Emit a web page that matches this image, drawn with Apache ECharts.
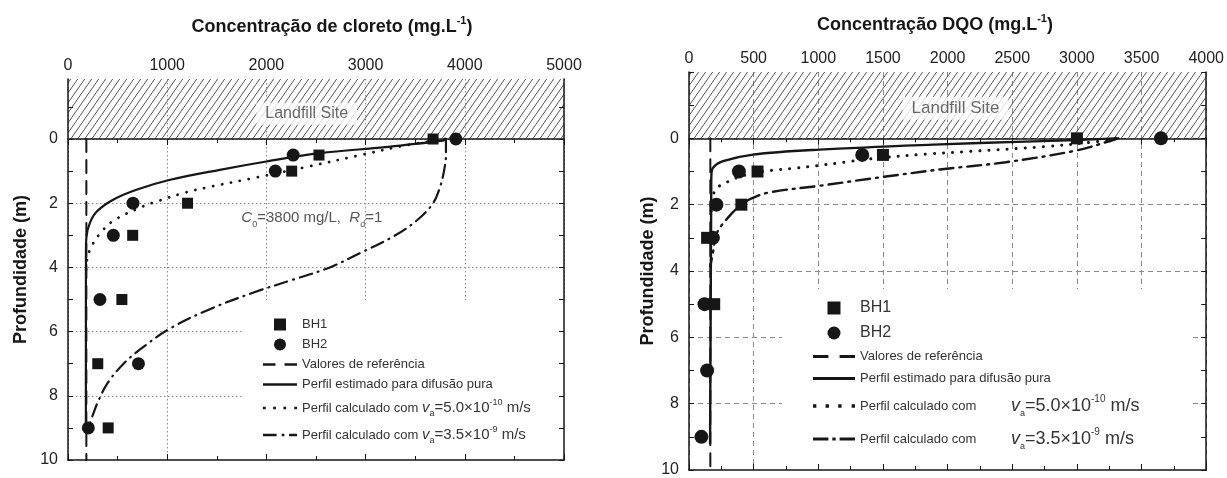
<!DOCTYPE html>
<html>
<head>
<meta charset="utf-8">
<script src="https://cdn.jsdelivr.net/npm/echarts@6.0.0/dist/echarts.min.js"></script>
<style>
  html, body { margin: 0; padding: 0; background: #fff; }
  #chart { width: 1227px; height: 478px; }
</style>
</head>
<body>
<div id="chart"></div>
<script>
// ---- cloreto (left panel) ----
const clDepthBH = [0, 0.5, 1, 2, 3, 5, 7, 9];
const clBH1 = [3680, 2530, 2255, 1205, 652, 543, 300, 405];
const clBH2 = [3910, 2270, 2090, 655, 457, 322, 710, 205];
const clRefDepth = [0, 10];
const clRefConc = [185, 185];
const clPureDepth = [0, 0.05, 0.25, 0.44, 0.7, 0.96, 1.27, 1.58, 1.89, 2.26, 2.62, 3.04, 3.5, 9];
const clPureConc = [3800, 3780, 3200, 2540, 2000, 1530, 1030, 690, 455, 290, 220, 186, 181, 180];
const clVa5Depth = [0, 0.2, 0.5, 0.86, 1.22, 1.48, 1.67, 1.95, 2.12, 2.52, 2.88, 3.35, 3.76, 4.1];
const clVa5Conc = [3800, 3400, 2950, 2420, 1865, 1445, 1180, 890, 740, 470, 340, 236, 192, 183];
const clVa35Depth = [0, 0.5, 1.0, 1.5, 2.0, 2.5, 3.0, 3.5, 4.0, 4.4, 4.75, 5.3, 5.9, 6.5, 7.0, 7.6, 8.2, 8.6, 8.9];
const clVa35Conc = [3810, 3810, 3790, 3750, 3680, 3530, 3300, 2980, 2640, 2250, 1900, 1430, 1030, 750, 560, 400, 300, 250, 215];

// ---- DQO (right panel) ----
const dqDepthBH1 = [0, 0.5, 1, 2, 3, 5];
const dqBH1 = [3000, 1500, 530, 405, 140, 195];
const dqDepthBH2 = [0, 0.5, 1, 2, 3, 5, 7, 9];
const dqBH2 = [3650, 1340, 386, 212, 185, 120, 140, 96];
const dqRefDepth = [0, 10];
const dqRefConc = [165, 165];
const dqPureDepth = [0, 0.05, 0.1, 0.19, 0.34, 0.49, 0.69, 0.89, 1.13, 1.5, 9.2];
const dqPureConc = [3300, 3000, 2600, 1890, 1010, 495, 263, 186, 173, 172, 163];
const dqVa5Depth = [0, 0.1, 0.25, 0.4, 0.47, 0.6, 0.72, 0.82, 0.9, 0.96, 1.05, 1.2, 1.35, 1.5, 1.8, 2.2];
const dqVa5Conc = [3300, 3150, 2750, 2150, 1850, 1450, 1200, 1000, 820, 650, 500, 360, 280, 215, 180, 172];
const dqVa35Depth = [0, 0.05, 0.37, 0.72, 0.94, 1.18, 1.43, 1.63, 1.82, 2.0, 2.33, 2.88, 3.43, 3.85];
const dqVa35Conc = [3320, 3280, 2990, 2450, 1940, 1470, 1010, 620, 480, 405, 315, 212, 186, 165];

// axis ranges and ticks
const clXTicks = [0, 1000, 2000, 3000, 4000, 5000];
const dqXTicks = [0, 500, 1000, 1500, 2000, 2500, 3000, 3500, 4000];
const depthLabels = [0, 2, 4, 6, 8, 10];
const depthGrid = [0, 2, 4, 6, 8];
const clDepthTicks = [-1, 0, 1, 2, 3, 4, 5, 6, 7, 8, 9, 10];
const dqDepthTicks = [-2, -1, 0, 1, 2, 3, 4, 5, 6, 7, 8, 9, 10];
const clDepthMin = -1.87, dqDepthMin = -2;

// annotation anchors (data coords)
const clSiteLabel = [2406, -0.79];
const dqSiteLabel = [2061, -0.91];
const clC0Label = [2458, 2.46];

function pairs(xs, ys) { return xs.map((x, i) => [x, ys[i]]); }

function hatchPattern() {
  const w = 7, h = 10;
  const c = document.createElement('canvas');
  c.width = w; c.height = h;
  const g = c.getContext('2d');
  g.strokeStyle = '#555';
  g.lineWidth = 1;
  for (let k = -1; k <= 1; k++) {
    g.beginPath();
    g.moveTo(k * w, h);
    g.lineTo((k + 1) * w, 0);
    g.stroke();
  }
  return c;
}
const hatch = { image: hatchPattern(), repeat: 'repeat' };

const INK = '#161616';
const FONT = 'Liberation Sans, Arial, sans-serif';

const chart = echarts.init(document.getElementById('chart'), null, { renderer: 'canvas' });

// frame axes sit above the legend boxes, grid lines sit below them
function topAxis(grid, max, interval, labels) {
  return {
    type: 'value', gridIndex: grid, position: 'top', min: 0, max: max, interval: interval, z: 5,
    axisLine: { show: true, lineStyle: { color: INK, width: 1.5 } },
    axisTick: { show: true, inside: true, length: 6, lineStyle: { color: INK } },
    minorTick: { show: true, splitNumber: 2, length: 4, lineStyle: { color: INK } },
    axisLabel: { show: true, color: '#222', fontSize: 16, fontFamily: FONT, margin: 5,
      customValues: labels, formatter: function (v) { return String(v); } },
    splitLine: { show: false }
  };
}
function bottomAxis(grid, max, interval) {
  return {
    type: 'value', gridIndex: grid, position: 'bottom', min: 0, max: max, interval: interval, z: 5,
    axisLine: { show: true, onZero: false, lineStyle: { color: INK, width: 1.5 } },
    axisTick: { show: true, inside: true, length: 6, lineStyle: { color: INK } },
    minorTick: { show: true, splitNumber: 2, length: 4, lineStyle: { color: INK } },
    axisLabel: { show: false }, splitLine: { show: false }
  };
}
function xGridAxis(grid, max, interval, gridType) {
  return {
    type: 'value', gridIndex: grid, min: 0, max: max, interval: interval, z: 0,
    axisLine: { show: false }, axisTick: { show: false }, axisLabel: { show: false },
    splitLine: { show: true, lineStyle: { color: '#8a8a8a', width: 1, type: gridType } }
  };
}
function depthAxes(grid, min, ticks, name, nameGap, gridType) {
  return [
    {
      type: 'value', gridIndex: grid, position: 'left', inverse: true, min: min, max: 10, z: 5,
      name: name, nameLocation: 'middle', nameGap: nameGap, nameRotate: 90,
      nameTextStyle: { fontSize: 18, fontWeight: 'bold', color: INK, fontFamily: FONT },
      axisLine: { show: true, onZero: false, lineStyle: { color: INK, width: 1.5 } },
      axisTick: { show: true, inside: true, length: 5, customValues: ticks, lineStyle: { color: INK } },
      axisLabel: { show: true, customValues: depthLabels, color: '#222', fontSize: 16, fontFamily: FONT, margin: 10 },
      splitLine: { show: false }
    },
    {
      type: 'value', gridIndex: grid, position: 'right', inverse: true, min: min, max: 10, z: 5,
      axisLine: { show: true, onZero: false, lineStyle: { color: INK, width: 1.5 } },
      axisTick: { show: true, inside: true, length: 5, customValues: ticks, lineStyle: { color: INK } },
      axisLabel: { show: false }, splitLine: { show: false }
    },
    {
      type: 'value', gridIndex: grid, position: 'left', inverse: true, min: min, max: 10, z: 0,
      axisLine: { show: false }, axisLabel: { show: false },
      axisTick: { show: false, customValues: depthGrid },
      splitLine: { show: true, lineStyle: { color: '#8a8a8a', width: 1, type: gridType } }
    }
  ];
}

const dotted = [0.1, 9];
const clGridType = [1.5, 2.5];
const dqGridType = [5, 4];

// legend icons (shapes only)
const icSquare = 'path://M0,0h10v10h-10z';
const icDash = 'path://M0,0h11v2.2h-11zM19,0h11v2.2h-11z';
const icSolid = 'path://M0,0h30v2.2h-30z';
const icDot = 'path://M0,0h2.4v2.4h-2.4zM9,0h2.4v2.4h-2.4zM18,0h2.4v2.4h-2.4zM27.6,0h2.4v2.4h-2.4z';
const icDashDotL = 'path://M0,0h12v2.2h-12zM16.5,0h2.4v2.2h-2.4zM23,0h7v2.2h-7z';
const icDashDotR = 'path://M0,0h11v2.2h-11zM13.8,0h2.4v2.2h-2.4zM19,0h11v2.2h-11z';

function legendData(dashDot) {
  return [
    { name: 'BH1', icon: icSquare },
    { name: 'BH2', icon: 'circle' },
    { name: 'Valores de referência', icon: icDash },
    { name: 'Perfil estimado para difusão pura', icon: icSolid },
    { name: 'va5', icon: icDot },
    { name: 'va35', icon: dashDot }
  ];
}

const richL = {
  i: { fontStyle: 'italic', fontSize: 15, color: '#333', fontFamily: FONT },
  b: { fontSize: 15, color: '#333', fontFamily: FONT },
  sub: { fontSize: 9, color: '#333', verticalAlign: 'bottom', lineHeight: 20, fontFamily: FONT },
  sup: { fontSize: 9, color: '#333', verticalAlign: 'top', lineHeight: 20, fontFamily: FONT }
};
const richR = {
  i: { fontStyle: 'italic', fontSize: 18, color: '#333', fontFamily: FONT, padding: [0, 0, 0, 31] },
  b: { fontSize: 18, color: '#333', fontFamily: FONT },
  sub: { fontSize: 9, color: '#333', verticalAlign: 'bottom', lineHeight: 24, fontFamily: FONT },
  sup: { fontSize: 10, color: '#333', verticalAlign: 'top', lineHeight: 24, fontFamily: FONT },
  bh: { fontSize: 16, color: '#333', fontFamily: FONT }
};

function lineSeries(name, xs, ys, xi, yi, type, width, extra) {
  return Object.assign({
    name: name, type: 'line', xAxisIndex: xi, yAxisIndex: yi,
    data: pairs(xs, ys), showSymbol: false, symbol: 'none', smooth: 0.35,
    lineStyle: { color: INK, width: width, type: type, cap: 'round' },
    itemStyle: { color: INK }, z: 3, silent: true
  }, extra || {});
}
function scatterSeries(name, xs, ys, xi, yi, symbol, size) {
  return {
    name: name, type: 'scatter', xAxisIndex: xi, yAxisIndex: yi,
    data: pairs(xs, ys), symbol: symbol, symbolSize: size,
    itemStyle: { color: INK, opacity: 1 }, z: 4, silent: true
  };
}
function labelSeries(pos, text, xi, yi, style) {
  return {
    type: 'scatter', xAxisIndex: xi, yAxisIndex: yi, data: [pos], symbolSize: 0, z: 4, silent: true,
    label: Object.assign({ show: true, position: 'inside', formatter: text, fontFamily: FONT }, style)
  };
}

const option = {
  animation: false,
  textStyle: { fontFamily: FONT },
  grid: [
    { left: 68, right: 663, top: 79, bottom: 18 },
    { left: 689, right: 20, top: 72, bottom: 5 }
  ],
  xAxis: [
    topAxis(0, 5000, 1000, clXTicks),
    bottomAxis(0, 5000, 1000),
    topAxis(1, 4000, 500, dqXTicks),
    bottomAxis(1, 4000, 500),
    xGridAxis(0, 5000, 1000, clGridType),
    xGridAxis(1, 4000, 500, dqGridType)
  ],
  yAxis: [].concat(
    depthAxes(0, clDepthMin, clDepthTicks, 'Profundidade (m)', 38, clGridType),
    depthAxes(1, dqDepthMin, dqDepthTicks, 'Profundidade (m)', 31, dqGridType)
  ),
  legend: [
    {
      data: legendData(icDashDotL), orient: 'vertical', left: 244, top: 300,
      padding: [18, 50, 20, 19], itemGap: 7, itemWidth: 34, itemHeight: 12,
      backgroundColor: '#fff', selectedMode: false, z: 3,
      itemStyle: { color: INK, borderWidth: 0 },
      textStyle: { fontSize: 13, color: '#333', fontFamily: FONT, rich: richL },
      formatter: function (n) {
        if (n === 'va5') return 'Perfil calculado com {i|v}{sub|a}{b|=5.0×10}{sup|-10}{b| m/s}';
        if (n === 'va35') return 'Perfil calculado com {i|v}{sub|a}{b|=3.5×10}{sup|-9}{b| m/s}';
        return n;
      }
    },
    {
      data: legendData(icDashDotR), orient: 'vertical', left: 782, top: 289,
      padding: [11, 52, 16, 31], itemGap: 9, itemWidth: 42, itemHeight: 13,
      backgroundColor: '#fff', selectedMode: false, z: 3,
      itemStyle: { color: INK, borderWidth: 0 },
      textStyle: { fontSize: 13, color: '#333', fontFamily: FONT, rich: richR },
      formatter: function (n) {
        if (n === 'BH1' || n === 'BH2') return '{bh|' + n + '}';
        if (n === 'va5') return 'Perfil calculado com {i|v}{sub|a}{b|=5.0×10}{sup|-10}{b| m/s}';
        if (n === 'va35') return 'Perfil calculado com {i|v}{sub|a}{b|=3.5×10}{sup|-9}{b| m/s}';
        return n;
      }
    }
  ],
  graphic: [
    {
      type: 'text',
      style: {
        x: 332, y: 27, text: '{t|Concentração de cloreto (mg.L}{s|-1}{t|)}',
        align: 'center', verticalAlign: 'middle',
        rich: { t: { fontSize: 18, fontWeight: 'bold', fill: INK, fontFamily: FONT },
                s: { fontSize: 11, fontWeight: 'bold', fill: INK, verticalAlign: 'top', lineHeight: 23, fontFamily: FONT } }
      }
    },
    {
      type: 'text',
      style: {
        x: 935, y: 25, text: '{t|Concentração DQO (mg.L}{s|-1}{t|)}',
        align: 'center', verticalAlign: 'middle',
        rich: { t: { fontSize: 18, fontWeight: 'bold', fill: INK, fontFamily: FONT },
                s: { fontSize: 11, fontWeight: 'bold', fill: INK, verticalAlign: 'top', lineHeight: 23, fontFamily: FONT } }
      }
    }
  ],
  series: [
    // left panel
    lineSeries('Valores de referência', clRefConc, clRefDepth, 0, 0, [13, 8], 2, {
      smooth: false,
      markArea: {
        silent: true, itemStyle: { color: hatch, borderWidth: 0 },
        data: [[{ coord: [0, clDepthMin] }, { coord: [5000, 0] }]]
      }
    }),
    lineSeries('Perfil estimado para difusão pura', clPureConc, clPureDepth, 0, 0, 'solid', 2.2),
    lineSeries('va5', clVa5Conc, clVa5Depth, 0, 0, dotted, 2.8),
    lineSeries('va35', clVa35Conc, clVa35Depth, 0, 0, [13, 6, 1, 6], 2.2),
    scatterSeries('BH1', clBH1, clDepthBH, 0, 0, 'rect', 11),
    scatterSeries('BH2', clBH2, clDepthBH, 0, 0, 'circle', 13),
    labelSeries(clSiteLabel, 'Landfill Site', 0, 0,
      { fontSize: 16, color: '#444', backgroundColor: '#fff', padding: [3, 9, 3, 9] }),
    labelSeries(clC0Label, '{i|C}{sub|0}=3800 mg/L,  {i|R}{sub|d}=1', 0, 0,
      { fontSize: 15, color: '#2a2a2a',
        rich: { i: { fontStyle: 'italic', fontSize: 15, color: '#2a2a2a', fontFamily: FONT },
                sub: { fontSize: 9, color: '#2a2a2a', verticalAlign: 'bottom', lineHeight: 22, fontFamily: FONT } } }),
    // right panel
    lineSeries('Valores de referência', dqRefConc, dqRefDepth, 2, 3, [13, 8], 2, {
      smooth: false,
      markArea: {
        silent: true, itemStyle: { color: hatch, borderWidth: 0 },
        data: [[{ coord: [0, dqDepthMin] }, { coord: [4000, 0] }]]
      }
    }),
    lineSeries('Perfil estimado para difusão pura', dqPureConc, dqPureDepth, 2, 3, 'solid', 2.4),
    lineSeries('va5', dqVa5Conc, dqVa5Depth, 2, 3, dotted, 3),
    lineSeries('va35', dqVa35Conc, dqVa35Depth, 2, 3, [14, 6, 2, 6], 2.4),
    scatterSeries('BH1', dqBH1, dqDepthBH1, 2, 3, 'rect', 12),
    scatterSeries('BH2', dqBH2, dqDepthBH2, 2, 3, 'circle', 14),
    labelSeries(dqSiteLabel, 'Landfill Site', 2, 3,
      { fontSize: 17, color: '#444', backgroundColor: '#fff', padding: [3, 9, 3, 9] })
  ]
};

chart.setOption(option);
</script>
</body>
</html>
